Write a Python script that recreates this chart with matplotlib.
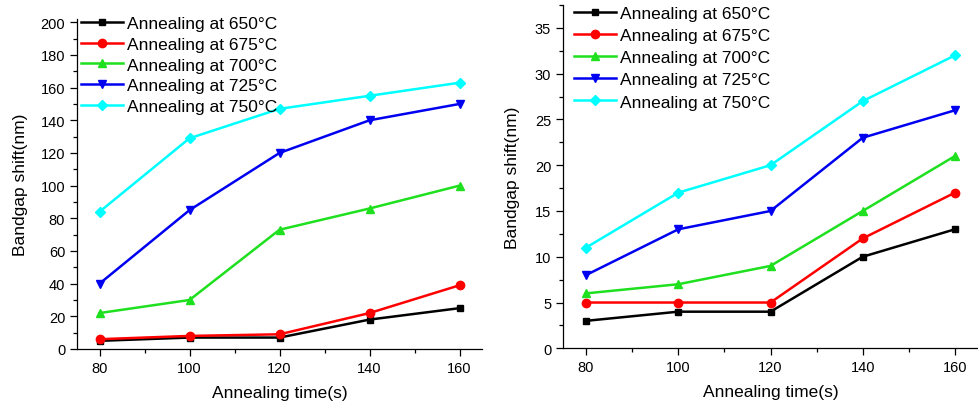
import matplotlib
matplotlib.use("Agg")
import matplotlib.pyplot as plt
from matplotlib.ticker import MultipleLocator

plt.rcParams['font.family'] = ['Liberation Sans', 'DejaVu Sans']

times = [80, 100, 120, 140, 160]
labels = ["Annealing at 650°C", "Annealing at 675°C", "Annealing at 700°C",
          "Annealing at 725°C", "Annealing at 750°C"]

# left panel
left_650 = [5, 7, 7, 18, 25]
left_675 = [6, 8, 9, 22, 39]
left_700 = [22, 30, 73, 86, 100]
left_725 = [40, 85, 120, 140, 150]
left_750 = [84, 129, 147, 155, 163]

# right panel
right_650 = [3, 4, 4, 10, 13]
right_675 = [5, 5, 5, 12, 17]
right_700 = [6, 7, 9, 15, 21]
right_725 = [8, 13, 15, 23, 26]
right_750 = [11, 17, 20, 27, 32]

colors = ["#000000", "#ff0000", "#1ee01e", "#0000f0", "#00ffff"]
markers = ["s", "o", "^", "v", "D"]
msizes = [5, 6, 6, 6, 5]

W, H = 979, 406
fig = plt.figure(figsize=(W/100, H/100), dpi=100)
ax1 = fig.add_axes([77/W, 1-350/H, (482-77)/W, (350-20)/H])
ax2 = fig.add_axes([563/W, 1-349.3/H, (978-563)/W, (349.3-6)/H])

def panel(ax, series, ylim, ymaj, legx, legy, lspace, ypad):
    for vals, c, m, ms, lab in zip(series, colors, markers, msizes, labels):
        ax.plot(times, vals, color=c, marker=m, markersize=ms, lw=1.8, label=lab)
    ax.set_xlim(75, 165)
    ax.set_ylim(*ylim)
    ax.xaxis.set_major_locator(MultipleLocator(20))
    ax.xaxis.set_minor_locator(MultipleLocator(10))
    ax.yaxis.set_major_locator(MultipleLocator(ymaj))
    ax.yaxis.set_minor_locator(MultipleLocator(ymaj/2))
    for s in ("top", "right"):
        ax.spines[s].set_visible(False)
    for s in ("left", "bottom"):
        ax.spines[s].set_linewidth(0.9)
    ax.tick_params(which="major", direction="out", length=5, width=0.9, labelsize=10.5)
    ax.tick_params(which="minor", direction="out", length=3, width=0.9)
    ax.set_xlabel("Annealing time(s)", fontsize=12.5, labelpad=7)
    ax.set_ylabel("Bandgap shift(nm)", fontsize=12.5, labelpad=ypad)
    ax.legend(loc="upper left", bbox_to_anchor=(legx/W, 1-legy/H),
              bbox_transform=fig.transFigure, frameon=False, fontsize=12.5,
              handlelength=2.4, handletextpad=0.25, labelspacing=lspace,
              borderpad=0, borderaxespad=0)

panel(ax1, [left_650, left_675, left_700, left_725, left_750], (0, 202), 20, 81, 17, 0.32, 9)
panel(ax2, [right_650, right_675, right_700, right_725, right_750], (0, 37.5), 5, 574, 7, 0.4, 11)

fig.savefig("out.png", dpi=100)
